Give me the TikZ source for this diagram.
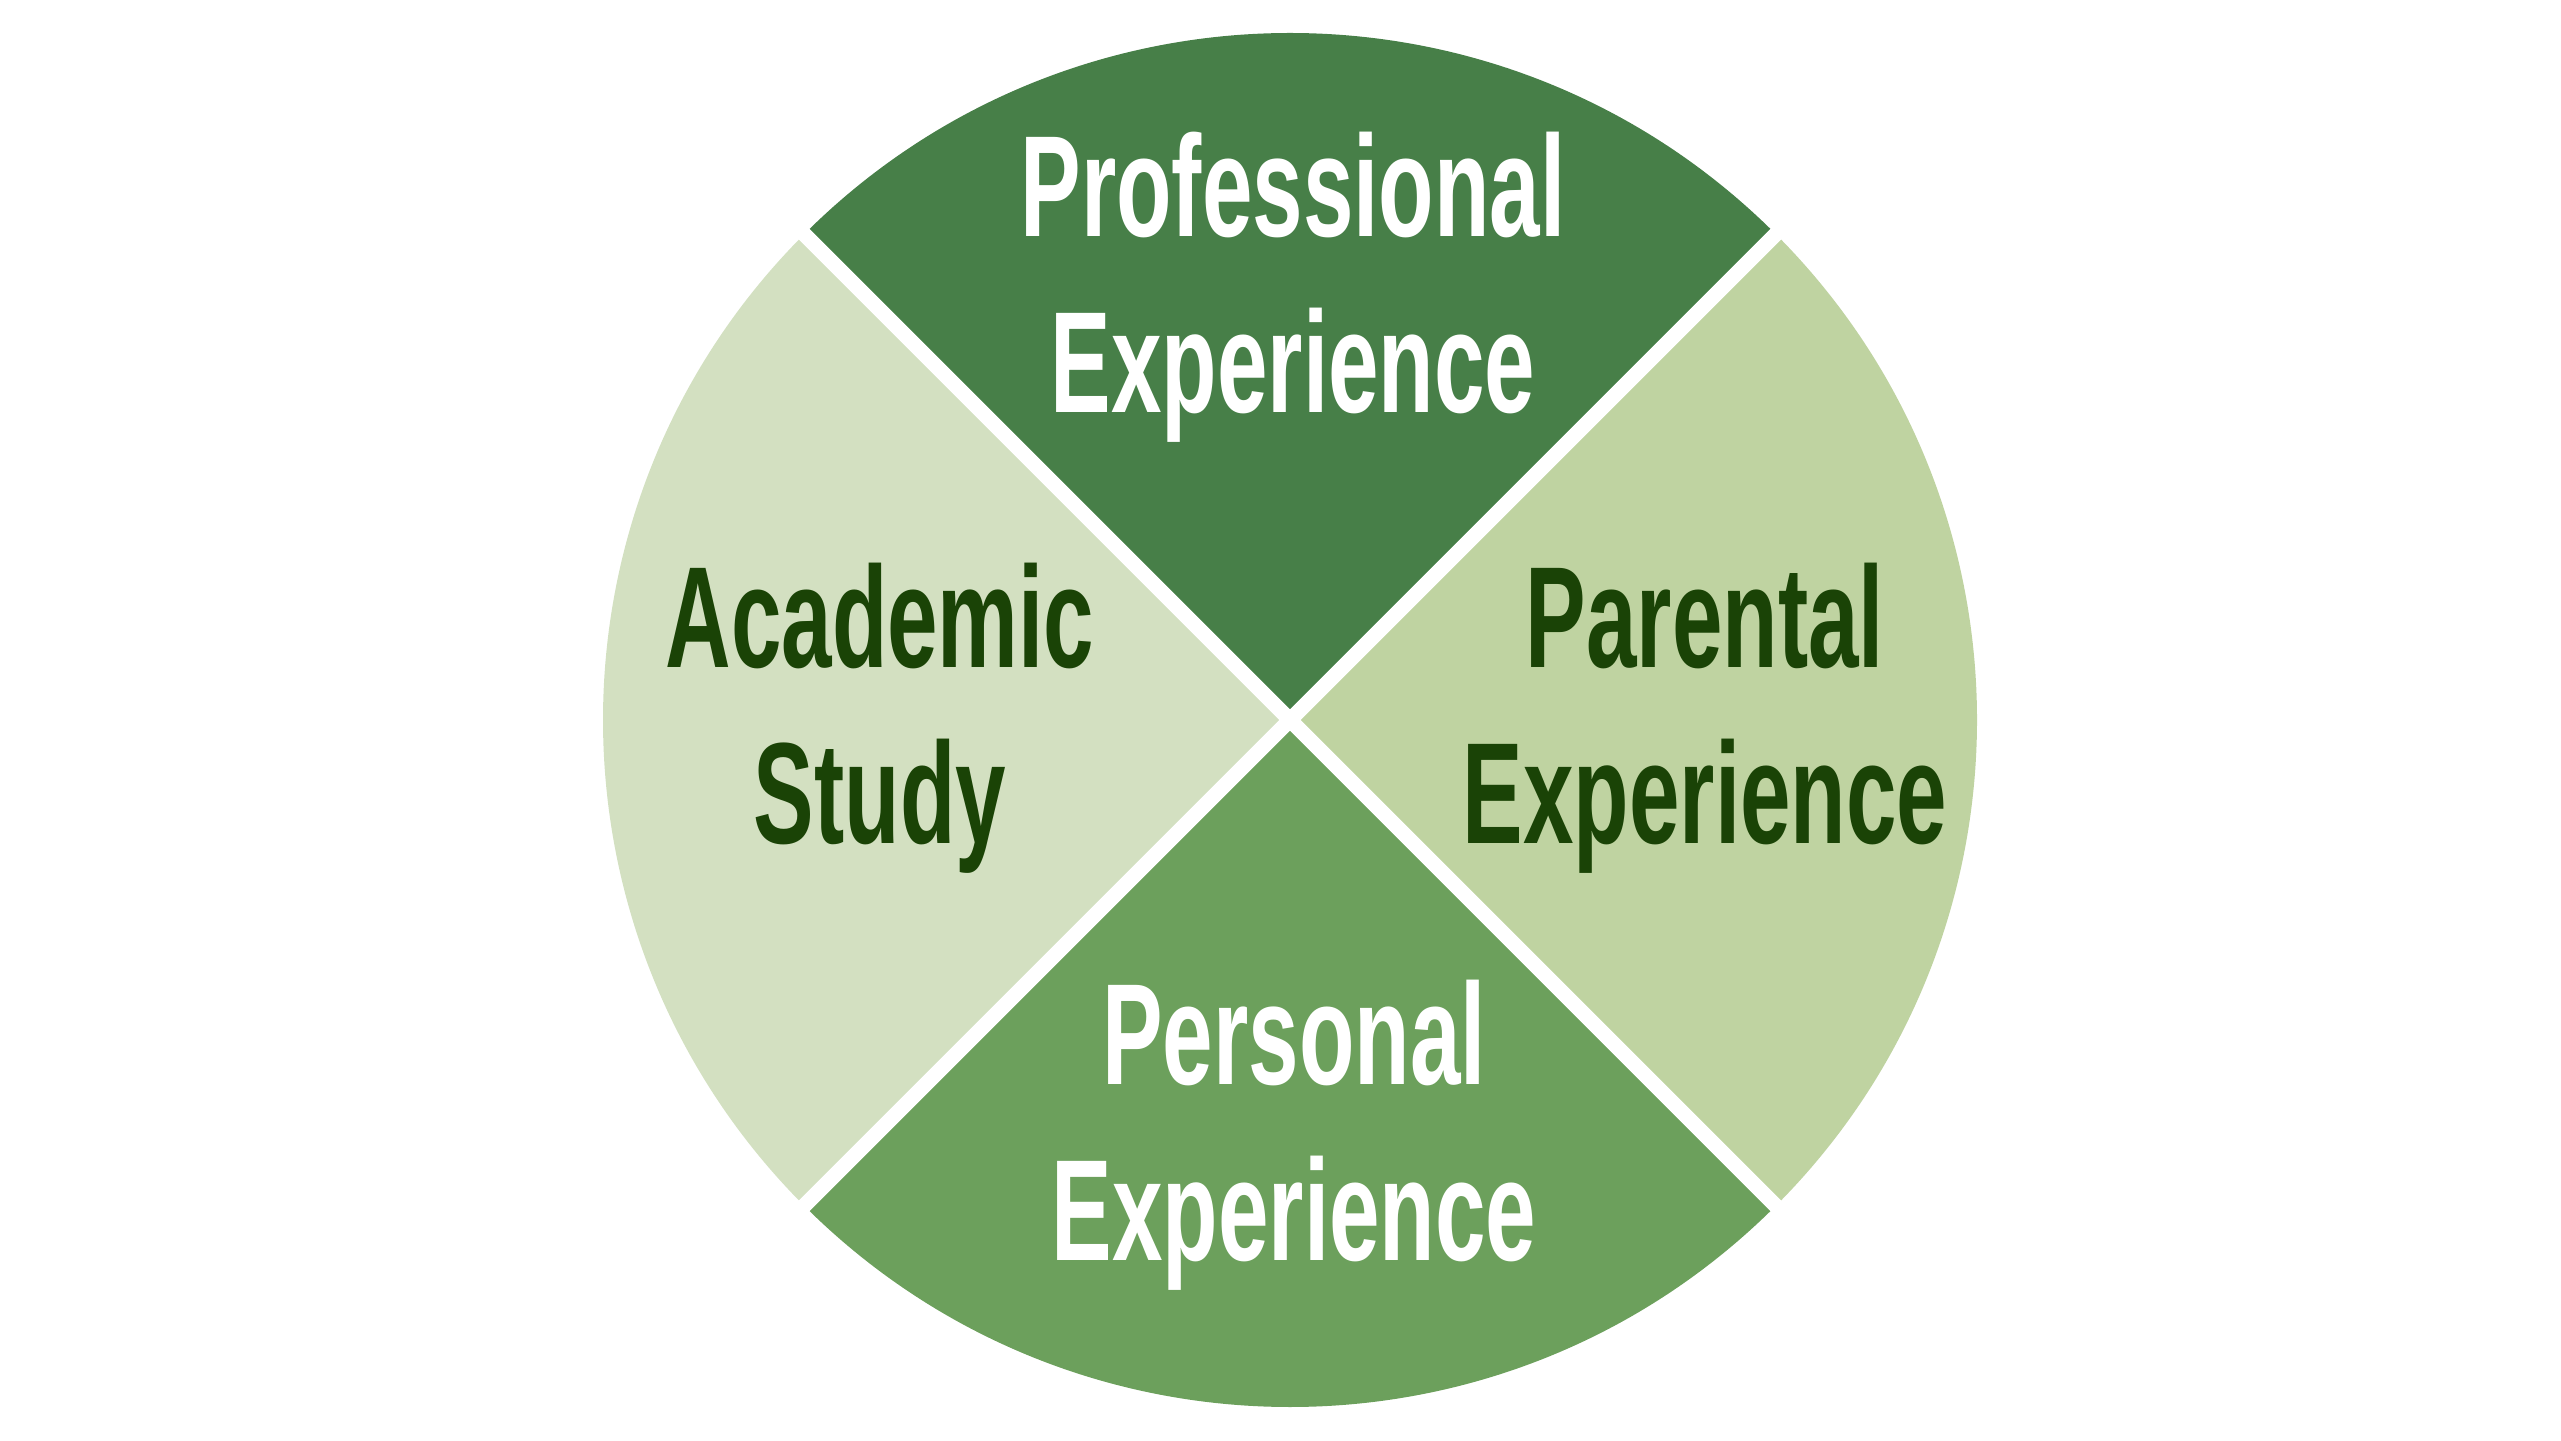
\documentclass[tikz,border=0pt]{standalone}
\usepackage{fontspec}
\newfontfamily\labelfont{Liberation Sans}[FakeStretch=0.63]
\usetikzlibrary{calc, positioning}
\definecolor{prof}{HTML}{477F48}
\definecolor{pers}{HTML}{6CA05C}
\definecolor{pare}{HTML}{BFD3A1}
\definecolor{acad}{HTML}{D3E0C1}
\definecolor{dark}{HTML}{1A4306}

\begin{document}
\begin{tikzpicture}[radius=6.87,
                    gap/.style={draw = white, line width = 1.5mm},
                    lab/.style={align = center, inner sep = 0pt,
                                font = \labelfont\bfseries\fontsize{41}{50}\selectfont}
                ]
                \useasboundingbox (0,0) rectangle (25.61,14.40);
                \coordinate (c) at (12.90,7.20);
                % the four quarters
                \fill[prof] (c) -- ++(45:6.87) arc[start angle=45, end angle=135] -- cycle;
                \fill[acad] (c) -- ++(135:6.87) arc[start angle=135, end angle=225] -- cycle;
                \fill[pers] (c) -- ++(225:6.87) arc[start angle=225, end angle=315] -- cycle;
                \fill[pare] (c) -- ++(315:6.87) arc[start angle=315, end angle=405] -- cycle;
                \draw[gap] ($(c)+(45:7)$) -- ($(c)+(225:7)$);
                \draw[gap] ($(c)+(135:7)$) -- ($(c)+(315:7)$);
                % labels
                \node[lab, text = white] (p) at (12.93,11.525) {Professional\\Experience};
                \node[lab, text = dark] (a) at (8.80,7.215) {Academic\\Study};
                \node[lab, text = dark] (r) at (17.05,7.22) {Parental\\Experience};
                \node[lab, text = white] (s) at (12.94,3.045) {Personal\\Experience};
\end{tikzpicture}
\end{document}
